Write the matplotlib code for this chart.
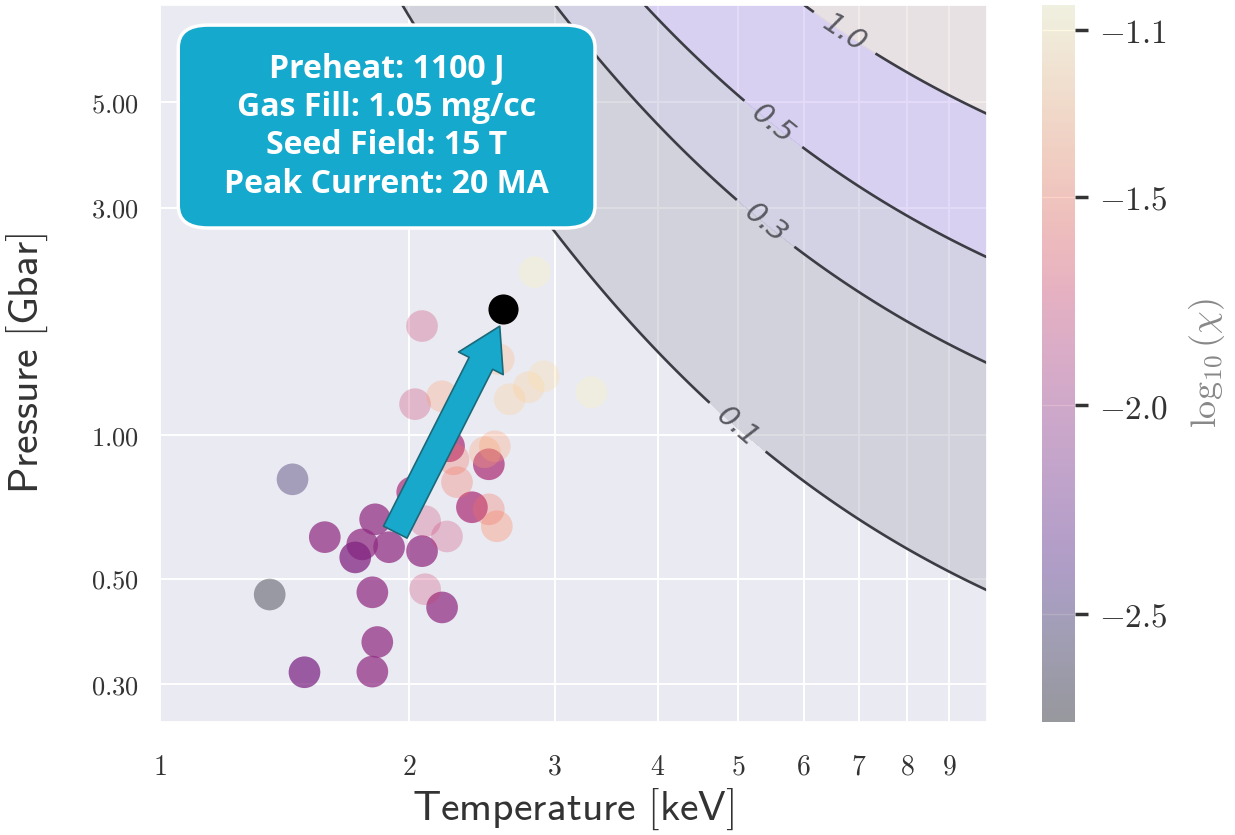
import numpy as np
import matplotlib
matplotlib.use('Agg')
import matplotlib.pyplot as plt
import seaborn as sns
from matplotlib.colors import Normalize
from matplotlib.cm import ScalarMappable
from matplotlib.patches import FancyArrowPatch, FancyBboxPatch
from matplotlib.ticker import NullLocator

sns.set_theme(style='darkgrid')
plt.rcParams['mathtext.fontset'] = 'cm'

# log10(chi / P) as a function of temperature
g_temp = [1.95, 3.0, 3.86, 4.30, 5.04, 5.90, 6.17, 7.36, 9.10, 10.0]
g_log = [-1.91, -1.43, -1.21, -1.125, -1.007, -0.905, -0.88, -0.79, -0.713, -0.687]

contour_levels = [0.1, 0.3, 0.5, 1.0]
fill_colors = ['#bcbcca', '#bcbcd8', '#c8b8f0', '#e8dad8']
label_pos = [(4.97, 1.03), (5.33, 2.71), (5.48, 4.44), (6.65, 6.79)]

# simulation points: temperature [keV], pressure [Gbar], log10(chi), opacity
temp = [1.446, 1.357, 1.582, 1.820, 1.756, 1.722, 1.892, 2.074, 1.806, 2.193,
        1.831, 1.495, 1.806, 2.018, 2.092, 2.092, 2.223, 2.236, 2.498, 2.383,
        2.540, 2.470, 2.264, 2.286, 2.554, 2.498, 2.034, 2.074, 2.193, 2.568,
        2.647, 2.791, 2.911, 3.324, 2.838]
pres = [0.808, 0.463, 0.611, 0.666, 0.590, 0.554, 0.582, 0.571, 0.468, 0.435,
        0.368, 0.318, 0.319, 0.759, 0.475, 0.660, 0.613, 0.948, 0.869, 0.706,
        0.948, 0.921, 0.890, 0.797, 0.644, 0.699, 1.162, 1.695, 1.207, 1.444,
        1.190, 1.261, 1.330, 1.231, 2.20]
logchi = [-2.50, -2.70, -2.05, -2.05, -2.05, -2.12, -2.05, -2.05, -2.05, -2.05,
          -2.05, -2.14, -2.05, -1.95, -1.81, -1.81, -1.81, -1.93, -1.93, -1.93,
          -1.38, -1.38, -1.56, -1.56, -1.47, -1.56, -1.81, -1.81, -1.38, -1.30,
          -1.21, -1.21, -1.15, -1.07, -1.07]
opacity = [0.35, 0.35, 0.72, 0.72, 0.72, 0.75, 0.72, 0.72, 0.72, 0.72,
           0.72, 0.72, 0.72, 0.72, 0.28, 0.28, 0.28, 0.75, 0.75, 0.75,
           0.3, 0.3, 0.3, 0.3, 0.35, 0.3, 0.3, 0.3, 0.3, 0.3,
           0.3, 0.3, 0.3, 0.3, 0.3]

best_temp, best_pres = 2.602, 1.84
arrow_start = (1.925, 0.626)
arrow_end = (2.575, 1.694)

info = 'Preheat: 1100 J\nGas Fill: 1.05 mg/cc\nSeed Field: 15 T\nPeak Current: 20 MA'

x_ticks = [1, 2, 3, 4, 5, 6, 7, 8, 9]
y_ticks = [0.3, 0.5, 1.0, 3.0, 5.0]
cb_ticks = [-2.5, -2.0, -1.5, -1.1]
vmin, vmax = -2.76, -1.04

fig = plt.figure(figsize=(12.35, 8.35), dpi=100)
ax = fig.add_axes([0.1296, 0.1353, 0.6696, 0.8587])
ax.set_xscale('log')
ax.set_yscale('log')

# smooth the read-off curve (quadratic in 1/T) for the background field
coef = np.polyfit(1.0 / np.array(g_temp), g_log, 2)
T = np.logspace(0, 1, 400)
P = np.logspace(np.log10(0.25), np.log10(8), 400)
TT, PP = np.meshgrid(T, P)
CHI = PP * 10 ** np.polyval(coef, 1.0 / TT)

ax.contourf(TT, PP, CHI, levels=contour_levels + [1e3], colors=fill_colors,
            alpha=0.5, zorder=1)
cs = ax.contour(TT, PP, CHI, levels=contour_levels, colors='#3c3c44',
                linewidths=1.9, zorder=2)
lbls = ax.clabel(cs, fmt='%.1f', fontsize=21, manual=label_pos, inline_spacing=14)
for t in lbls:
    t.set_color('#5a5a62')
    t.set_fontstyle('italic')

cmap = plt.get_cmap('magma')
norm = Normalize(vmin, vmax)
rgba = cmap(norm(np.array(logchi)))
rgba[:, 3] = opacity
ax.scatter(temp, pres, c=rgba, s=520, linewidths=0, zorder=3)
ax.scatter([best_temp], [best_pres], c='black', s=470, linewidths=0, zorder=5)

arrow = FancyArrowPatch(arrow_start, arrow_end,
                        arrowstyle='simple,head_length=3.0,head_width=3.6,tail_width=1.9',
                        mutation_scale=10, fc='#17a8cb', ec='#1d6878', lw=1.2,
                        shrinkA=0, shrinkB=0, zorder=4)
ax.add_patch(arrow)

box = FancyBboxPatch((0.022, 0.689), 0.504, 0.283, transform=ax.transAxes,
                     boxstyle='round,pad=0,rounding_size=0.036', mutation_aspect=0.87,
                     fc='#15a9cd', ec='white', lw=2.5, zorder=6)
ax.add_patch(box)
ax.text(0.274, 0.8305, info, transform=ax.transAxes, ha='center', va='center',
        fontsize=23, fontweight='bold', family='Open Sans', color='white',
        linespacing=1.22, zorder=7)

ax.set_xlim(1, 10)
ax.set_ylim(0.25, 8)
ax.set_xticks(x_ticks, [f'${v}$' for v in x_ticks])
ax.set_yticks(y_ticks, [f'${v:.2f}$' for v in y_ticks])
ax.xaxis.set_minor_locator(NullLocator())
ax.yaxis.set_minor_locator(NullLocator())
ax.tick_params(axis='x', labelsize=20, pad=16, labelcolor='#333333')
ax.tick_params(axis='y', labelsize=19, pad=9, labelcolor='#333333')
ax.grid(True, color='white', lw=1.4)
ax.set_xlabel(r'$\mathsf{Temperature\ [keV]}$', fontsize=30, color='#333333', labelpad=4)
ax.set_ylabel(r'$\mathsf{Pressure\ [Gbar]}$', fontsize=30, color='#333333')
ax.yaxis.set_label_coords(-0.133, 0.5)

cax = fig.add_axes([0.8437, 0.1353, 0.0267, 0.8587])
sm = ScalarMappable(norm=norm, cmap=cmap)
cb = fig.colorbar(sm, cax=cax, alpha=0.35)
cb.outline.set_visible(False)
cb.set_ticks(cb_ticks, labels=[f'${v:.1f}$' for v in cb_ticks])
cb.ax.tick_params(length=9, width=2.5, color='#333333', pad=8, labelsize=24,
                  labelcolor='#333333')
cb.set_label(r'$\log_{10}(\chi)$', fontsize=26, color='#888888', labelpad=14)

fig.savefig('out.png', dpi=100)
